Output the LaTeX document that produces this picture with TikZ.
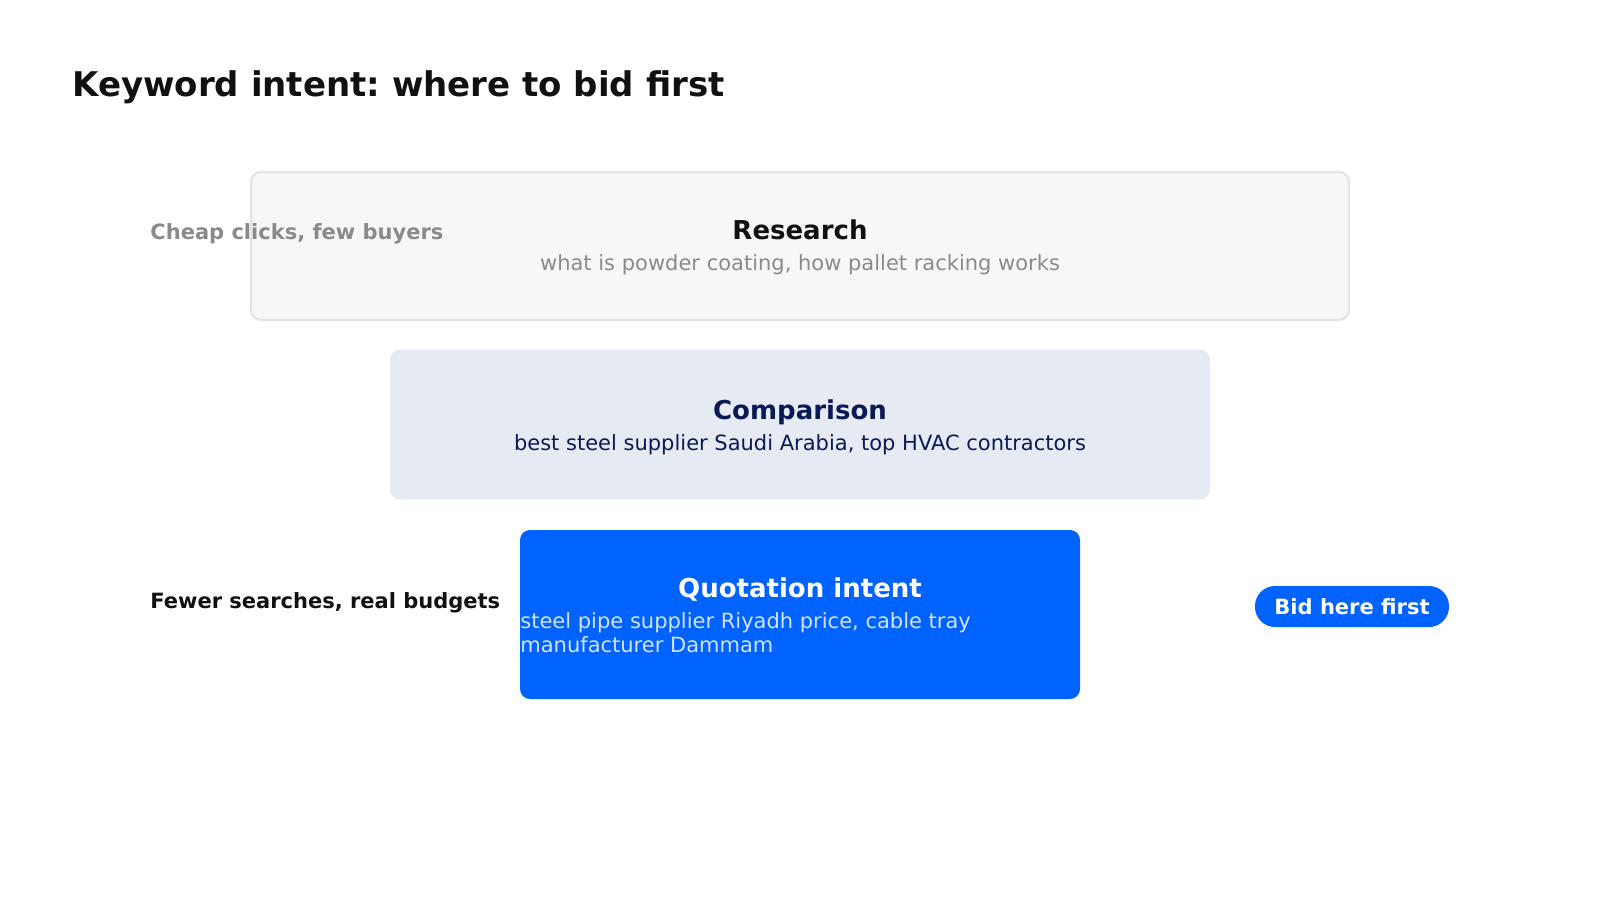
\documentclass[tikz,border=0pt]{standalone}
\usepackage{fontspec}
\setmainfont{DejaVu Sans}
\usetikzlibrary{positioning}
\frenchspacing

\definecolor{paper}{HTML}{F7F7F5}
\definecolor{edge}{HTML}{E3E3E1}
\definecolor{mute}{HTML}{8A8A86}
\definecolor{mist}{HTML}{E6EAF2}
\definecolor{navy}{HTML}{0B1A57}
\definecolor{bid}{HTML}{0062FF}
\definecolor{pale}{HTML}{D2E2FF}
\definecolor{ink}{HTML}{111111}

\tikzset{
  tier/.style={rectangle, rounded corners=5pt, inner sep=0pt},
  tiertitle/.style={inner sep=0pt, anchor=base, font=\fontsize{13}{15}\selectfont\bfseries},
  tiersub/.style={inner sep=0pt, anchor=base, font=\fontsize{10.5}{12}\selectfont},
  sidelabel/.style={inner sep=0pt, anchor=base west, font=\fontsize{10.5}{12}\selectfont\bfseries}
}

\begin{document}
\begin{tikzpicture}[x=0.5pt,y=-0.5pt]
  \useasboundingbox[fill=white] (0,0) rectangle (1600,900);

  \node[inner sep=0pt, anchor=base west, text=ink, font=\fontsize{17}{20}\selectfont\bfseries] (title) at (72,96) {Keyword intent: where to bid first};

  % research tier
  \node[tier, fill=paper, draw=edge, line width=1pt, minimum width=549pt, minimum height=74pt] (research) at (800,246) {};
  \node[tiertitle, text=ink] (researchtitle) at (800,239) {Research};
  \node[tiersub, text=mute] (researchsub) at (800,270) {what is powder coating, how pallet racking works};
  \node[sidelabel, text=mute] (cheap) at (150,239) {Cheap clicks, few buyers};

  % comparison tier
  \node[tier, fill=mist, minimum width=410pt, minimum height=75pt] (comparison) at (800,424.5) {};
  \node[tiertitle, text=navy] (comparisontitle) at (800,419.5) {Comparison};
  \node[tiersub, text=navy] (comparisonsub) at (800,450) {best steel supplier Saudi Arabia, top HVAC contractors};

  % quotation tier
  \node[tier, fill=bid, minimum width=280pt, minimum height=84.5pt] (quotation) at (800,614.5) {};
  \node[tiertitle, text=white] (quotationtitle) at (800,597) {Quotation intent};
  \node[tiersub, text=pale, anchor=base west] (quotationsub1) at (520,628) {steel pipe supplier Riyadh price, cable tray};
  \node[tiersub, text=pale, anchor=base west] (quotationsub2) at (520,652) {manufacturer Dammam};
  \node[sidelabel, text=ink] (fewer) at (150,608) {Fewer searches, real budgets};

  \node[rectangle, rounded corners=10pt, fill=bid, text=white, inner sep=0pt, minimum width=97pt, minimum height=20.5pt, font=\fontsize{10.5}{12}\selectfont\bfseries] (bidfirst) at (1352,606.5) {Bid here first};

\end{tikzpicture}
\end{document}
